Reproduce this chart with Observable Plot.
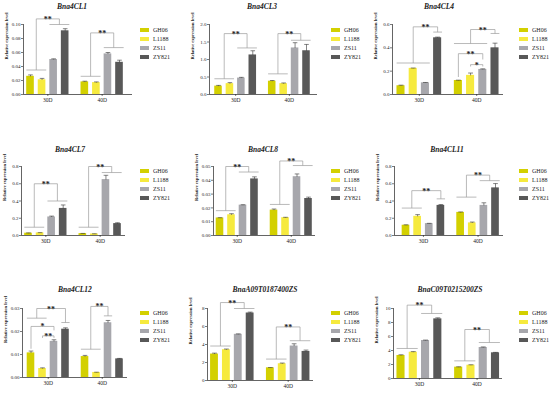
<!DOCTYPE html>
<html><head><meta charset="utf-8">
<script src="https://cdn.jsdelivr.net/npm/d3@7"></script>
<script src="https://cdn.jsdelivr.net/npm/@observablehq/plot@0.6"></script>
<style>
body{margin:0;background:#fff;}
#root{position:relative;width:550px;height:393px;overflow:hidden;font-family:"Liberation Serif","Times New Roman",serif;color:#222;}
.panel{position:absolute;overflow:visible;}
.title{position:absolute;font-weight:bold;font-style:italic;font-size:7.5px;transform:translate(-50%,-50%);white-space:nowrap;line-height:1;}
.leg{position:absolute;font-size:6px;white-space:nowrap;line-height:1;transform:translateY(-50%);}
.sw{position:absolute;width:9px;height:4px;transform:translateY(-50%);}
</style></head><body><div id="root"></div>
<script>
// ---------- data ----------
const genotypes = ["GH06", "L1188", "ZS11", "ZY821"];
const stages = ["30D", "40D"];
const genes = ["Bna4CL1", "Bna4CL3", "Bna4CL4", "Bna4CL7", "Bna4CL8", "Bna4CL11", "Bna4CL12", "BnaA09T0187400ZS", "BnaC09T0215200ZS"];
const yLabel = "Relative expression level";

// means: 30D GH06, L1188, ZS11, ZY821, then 40D GH06, L1188, ZS11, ZY821
const mean_CL1 = [0.026, 0.021, 0.050, 0.091, 0.018, 0.017, 0.058, 0.046];
const sd_CL1   = [0.002, 0.002, 0.001, 0.003, 0.001, 0.001, 0.002, 0.003];
const ticks_CL1 = [0, 0.02, 0.04, 0.06, 0.08, 0.10];

const mean_CL3 = [0.24, 0.31, 0.47, 1.13, 0.38, 0.31, 1.33, 1.25];
const sd_CL3   = [0.02, 0.03, 0.02, 0.12, 0.02, 0.02, 0.15, 0.18];
const ticks_CL3 = [0, 0.5, 1.0, 1.5, 2.0];

const mean_CL4 = [0.075, 0.224, 0.100, 0.486, 0.120, 0.164, 0.215, 0.400];
const sd_CL4   = [0.005, 0.003, 0.003, 0.006, 0.003, 0.020, 0.005, 0.040];
const ticks_CL4 = [0, 0.2, 0.4, 0.6];

const mean_CL7 = [0.027, 0.030, 0.215, 0.314, 0.022, 0.018, 0.648, 0.138];
const sd_CL7   = [0.003, 0.003, 0.010, 0.040, 0.002, 0.002, 0.050, 0.010];
const ticks_CL7 = [0, 0.2, 0.4, 0.6, 0.8];

const mean_CL8 = [0.0127, 0.0150, 0.0220, 0.0410, 0.0184, 0.0129, 0.0426, 0.0268];
const sd_CL8   = [0.0002, 0.0008, 0.0003, 0.0015, 0.0008, 0.0003, 0.0020, 0.0010];
const ticks_CL8 = [0, 0.01, 0.02, 0.03, 0.04, 0.05];

const mean_CL11 = [0.119, 0.222, 0.138, 0.349, 0.268, 0.146, 0.349, 0.552];
const sd_CL11   = [0.005, 0.020, 0.003, 0.010, 0.005, 0.010, 0.030, 0.050];
const ticks_CL11 = [0, 0.2, 0.4, 0.6, 0.8];

const mean_CL12 = [0.0107, 0.0039, 0.0157, 0.0210, 0.0091, 0.0022, 0.0238, 0.0081];
const sd_CL12   = [0.0008, 0.0003, 0.0007, 0.0006, 0.0005, 0.0001, 0.0010, 0.0002];
const ticks_CL12 = [0, 0.01, 0.02, 0.03];

const mean_A09 = [2.94, 3.42, 5.13, 7.50, 1.41, 1.86, 3.83, 3.23];
const sd_A09   = [0.10, 0.08, 0.05, 0.10, 0.03, 0.08, 0.25, 0.15];
const ticks_A09 = [0, 2, 4, 6, 8];

const mean_C09 = [3.29, 3.76, 5.43, 8.52, 1.62, 1.90, 4.43, 3.67];
const sd_C09   = [0.10, 0.08, 0.06, 0.15, 0.05, 0.06, 0.08, 0.06];
const ticks_C09 = [0, 2, 4, 6, 8, 10];

// significance: [stage, kind, a0, a1, b0, b1, yA, yB, yTop, label]
// kind "g" = group bracket, "p" = pairwise bracket
const sig_CL1 = [["30D","g",0,1,2,3,0.035,0.100,0.108,"**"], ["40D","g",0,1,2,3,0.026,0.067,0.088,"**"]];
const sig_CL3 = [["30D","g",0,1,2,3,0.45,1.33,1.74,"**"], ["40D","g",0,1,2,3,0.59,1.55,1.74,"**"]];
const sig_CL4 = [["30D","g",0,2,3,3,0.27,0.535,0.58,"**"], ["40D","g",0,2,3,3,0.437,0.523,0.557,"**"],
                 ["40D","p",0,0,2,2,0.15,0.30,0.35,"**"], ["40D","p",1,1,2,2,0.24,0.24,0.256,"*"]];
const sig_CL7 = [["30D","g",0,1,2,3,0.096,0.40,0.60,"**"], ["40D","g",0,1,2,3,0.096,0.73,0.80,"**"]];
const sig_CL8 = [["30D","g",0,1,2,3,0.018,0.046,0.050,"**"], ["40D","g",0,1,2,3,0.0225,0.0507,0.054,"**"]];
const sig_CL11 = [["30D","g",0,1,3,3,0.318,0.425,0.52,"**"], ["40D","g",0,1,2,3,0.445,0.636,0.70,"**"]];
const sig_CL12 = [["30D","g",0,1,3,3,0.0258,0.0239,0.0300,"**"], ["30D","p",0,0,2,2,0.0125,0.0205,0.0222,"*"],
                  ["30D","p",1,1,2,2,0.0172,0.0172,0.0181,"**"], ["40D","g",0,1,2,2,0.0123,0.0268,0.0309,"**"]];
const sig_A09 = [["30D","g",0,1,2,3,3.83,8.0,8.66,"**"], ["40D","g",0,1,2,3,2.38,4.42,5.95,"**"]];
const sig_C09 = [["30D","g",0,1,2,3,4.29,9.29,10.48,"**"], ["40D","g",0,1,2,3,2.52,5.14,7.0,"**"]];

// ---------- styling & layout ----------
const palette = ["#d3d000", "#f6ea3e", "#a7a7ac", "#585858"];
const panels = [
  {gene: genes[0], mean: mean_CL1, sd: sd_CL1, ticks: ticks_CL1, fmt: ".2f", sig: sig_CL1},
  {gene: genes[1], mean: mean_CL3, sd: sd_CL3, ticks: ticks_CL3, fmt: ".1f", sig: sig_CL3},
  {gene: genes[2], mean: mean_CL4, sd: sd_CL4, ticks: ticks_CL4, fmt: ".1f", sig: sig_CL4},
  {gene: genes[3], mean: mean_CL7, sd: sd_CL7, ticks: ticks_CL7, fmt: ".1f", sig: sig_CL7},
  {gene: genes[4], mean: mean_CL8, sd: sd_CL8, ticks: ticks_CL8, fmt: ".2f", sig: sig_CL8},
  {gene: genes[5], mean: mean_CL11, sd: sd_CL11, ticks: ticks_CL11, fmt: ".1f", sig: sig_CL11},
  {gene: genes[6], mean: mean_CL12, sd: sd_CL12, ticks: ticks_CL12, fmt: ".2f", sig: sig_CL12},
  {gene: genes[7], mean: mean_A09, sd: sd_A09, ticks: ticks_A09, fmt: "d", sig: sig_A09},
  {gene: genes[8], mean: mean_C09, sd: sd_C09, ticks: ticks_C09, fmt: "d", sig: sig_C09}
];
const layout = [
  {ax:23,  ae:132, c0:30,    c7:119,   top:24,  bot:94,  tx:72,  ty:7,   lx:140, ly:30},
  {ax:209, ae:317, c0:218,   c7:306,   top:24,  bot:94,  tx:262, ty:7,   lx:331, ly:30},
  {ax:392, ae:503, c0:400.5, c7:494.5, top:24,  bot:94,  tx:439, ty:7,   lx:519, ly:30},
  {ax:21,  ae:125, c0:28,    c7:117,   top:166, bot:235, tx:70,  ty:150, lx:140, ly:171},
  {ax:213, ae:315, c0:219.5, c7:308,   top:166, bot:235, tx:263, ty:150, lx:331, ly:171},
  {ax:394, ae:503, c0:405.5, c7:495,   top:166, bot:235, tx:447, ty:150, lx:519, ly:171},
  {ax:22,  ae:127, c0:30.5,  c7:119,   top:308, bot:377, tx:75,  ty:290, lx:140, ly:312.5},
  {ax:207, ae:313, c0:214,   c7:305.5, top:308, bot:380, tx:265, ty:290, lx:331, ly:312.5},
  {ax:393, ae:502, c0:400.5, c7:495,   top:308, bot:378, tx:450, ty:290, lx:519, ly:312.5}
];
const GAP = 4.7, BW = 0.33, CAP = 0.2, FLOOR = 0.36;
const pos = (s, g) => stages.indexOf(s) * GAP + g;

const root = document.getElementById("root");

panels.forEach((p, k) => {
  const L = layout[k];
  const rows = [];
  stages.forEach((s, si) => genotypes.forEach((g, gi) => {
    rows.push({g, x: pos(s, gi), v: p.mean[si * 4 + gi], e: p.sd[si * 4 + gi]});
  }));
  const segs = [], labels = [];
  p.sig.forEach(([s, kind, a0, a1, b0, b1, yA, yB, yT, lab]) => {
    const xa = (pos(s, a0) + pos(s, a1)) / 2, xb = (pos(s, b0) + pos(s, b1)) / 2;
    if (kind === "g") {
      segs.push({x1: pos(s, a0) - FLOOR, x2: pos(s, a1) + FLOOR, y1: yA, y2: yA});
      segs.push({x1: pos(s, b0) - FLOOR, x2: pos(s, b1) + FLOOR, y1: yB, y2: yB});
    }
    segs.push({x1: xa, x2: xa, y1: yA, y2: yT});
    segs.push({x1: xb, x2: xb, y1: yB, y2: yT});
    segs.push({x1: xa, x2: xb, y1: yT, y2: yT});
    labels.push({x: (xa + xb) / 2, y: yT, t: lab});
  });
  const pitch = (L.c7 - L.c0) / (3 + GAP);
  const lo = -(L.c0 - L.ax) / pitch;
  const hi = (3 + GAP) + (L.ae - L.c7) / pitch;
  const svgLeft = L.ax - 26, svgTop = L.top - 22;
  const width = L.ae - svgLeft + 3;
  const height = L.bot - svgTop + 12;
  const centers = stages.map(s => pos(s, 1.5));
  const ymax = p.ticks[p.ticks.length - 1];

  const chart = Plot.plot({
    width, height,
    marginLeft: 26, marginRight: 3, marginTop: 22, marginBottom: 12,
    x: {domain: [lo, hi], axis: null},
    y: {domain: [0, ymax], axis: null},
    color: {domain: genotypes, range: palette},
    style: {fontFamily: "'Liberation Serif', serif", background: "transparent", overflow: "visible", color: "#222"},
    marks: [
      Plot.rect(rows, {x1: d => d.x - BW, x2: d => d.x + BW, y1: 0, y2: "v", fill: "g"}),
      Plot.link(rows, {x1: "x", x2: "x", y1: "v", y2: d => d.v + d.e, stroke: "#333", strokeWidth: 0.6}),
      Plot.link(rows, {x1: d => d.x - CAP, x2: d => d.x + CAP, y1: d => d.v + d.e, y2: d => d.v + d.e, stroke: "#333", strokeWidth: 0.6}),
      Plot.link(segs, {x1: "x1", x2: "x2", y1: "y1", y2: "y2", stroke: "#9c9c9c", strokeWidth: 0.7}),
      Plot.text(labels, {x: "x", y: "y", text: "t", fontSize: 8, fontWeight: "bold", lineAnchor: "bottom", dy: 3, fill: "#222"}),
      Plot.ruleY([0], {stroke: "#222", strokeWidth: 0.7}),
      Plot.ruleX([lo], {stroke: "#222", strokeWidth: 0.7}),
      Plot.axisY({ticks: p.ticks, tickFormat: d3.format(p.fmt), tickSize: 2, tickPadding: 1, fontSize: 5, label: null, strokeWidth: 0.6}),
      Plot.axisX({ticks: centers, tickFormat: d => stages[centers.indexOf(d)], tickSize: 2, tickPadding: 1.5, fontSize: 5.5, label: null, strokeWidth: 0.6}),
      Plot.text([yLabel], {frameAnchor: "left", rotate: -90, dx: -17, fontSize: 4.5, fontWeight: "bold", fill: "#222"})
    ]
  });
  chart.classList.add("panel");
  chart.style.left = svgLeft + "px";
  chart.style.top = svgTop + "px";
  root.appendChild(chart);

  const t = document.createElement("div");
  t.className = "title";
  t.textContent = p.gene;
  t.style.left = L.tx + "px";
  t.style.top = L.ty + "px";
  root.appendChild(t);

  genotypes.forEach((g, i) => {
    const sw = document.createElement("div");
    sw.className = "sw";
    sw.style.left = L.lx + "px";
    sw.style.top = (L.ly + i * 9) + "px";
    sw.style.background = palette[i];
    root.appendChild(sw);
    const tx = document.createElement("div");
    tx.className = "leg";
    tx.textContent = g;
    tx.style.left = (L.lx + 13) + "px";
    tx.style.top = (L.ly + i * 9) + "px";
    root.appendChild(tx);
  });
});
</script>
</body></html>
